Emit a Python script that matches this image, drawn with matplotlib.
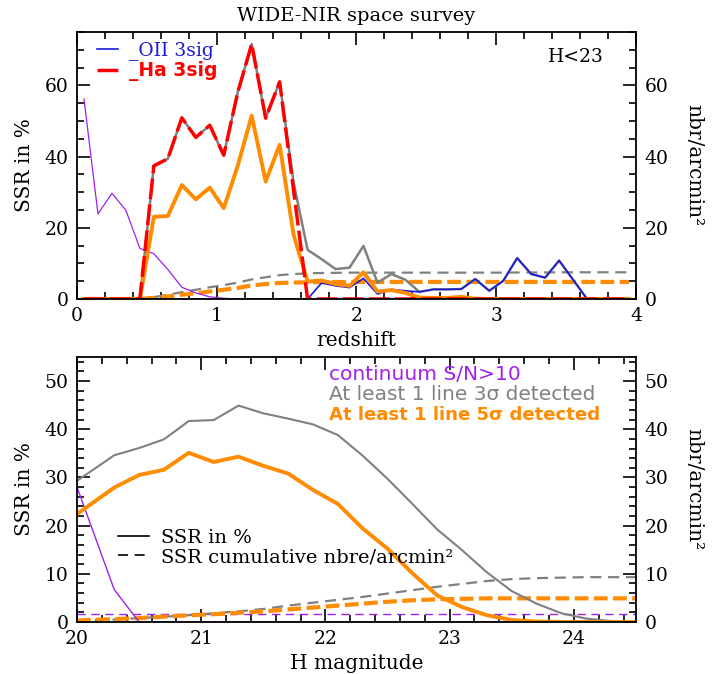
import numpy as np
import matplotlib
matplotlib.use("Agg")
import matplotlib.pyplot as plt
from matplotlib.lines import Line2D
from matplotlib.ticker import MultipleLocator

plt.rcParams["font.family"] = "DejaVu Serif"
plt.rcParams["font.size"] = 13

# ---- top panel : SSR vs redshift (H<23) ----
z = [0.05, 0.15, 0.25, 0.35, 0.45, 0.55, 0.65, 0.75, 0.85, 0.95,
     1.05, 1.15, 1.25, 1.35, 1.45, 1.55, 1.65, 1.75, 1.85, 1.95,
     2.05, 2.15, 2.25, 2.35, 2.45, 2.55, 2.65, 2.75, 2.85, 2.95,
     3.05, 3.15, 3.25, 3.35, 3.45, 3.55, 3.65, 3.75, 3.85, 3.95]

z_cont = [56.2, 23.9, 29.7, 24.9, 14.2, 12.7, 8.3, 3.3, 1.7, 0.6,
          0.2, 0, 0, 0, 0, 0, 0, 0, 0, 0,
          0, 0, 0, 0, 0, 0, 0, 0, 0, 0,
          0, 0, 0, 0, 0, 0, 0, 0, 0, 0]
z_3sig = [0, 0, 0, 0, 0, 37.4, 39.4, 50.9, 45.4, 48.8,
          40.4, 58.0, 71.6, 50.8, 61.0, 32.7, 13.8, 11.2, 8.4, 8.8,
          14.9, 4.6, 7.0, 5.4, 2.0, 2.7, 2.7, 2.8, 5.6, 2.3,
          5.1, 11.5, 7.0, 6.0, 10.8, 5.4, 0, 0, 0, 0]
z_5sig = [0, 0, 0, 0, 0, 23.1, 23.3, 32.0, 28.0, 31.3,
          25.5, 37.4, 51.5, 33.0, 43.3, 18.0, 4.9, 5.2, 4.2, 3.7,
          7.5, 2.1, 2.5, 1.7, 0.4, 0.3, 0.3, 0.6, 0.1, 0,
          0, 0, 0, 0, 0, 0, 0, 0, 0, 0]
z_oii = [0, 0, 0, 0, 0, 0, 0, 0, 0, 0,
         0, 0, 0, 0, 0, 0, 0, 4.5, 3.7, 3.2,
         5.8, 1.4, 2.7, 2.3, 2.0, 2.7, 2.7, 2.8, 5.6, 2.3,
         5.1, 11.5, 7.0, 6.0, 10.8, 5.4, 0, 0, 0, 0]
z_ha = [0, 0, 0, 0, 0, 37.4, 39.4, 50.9, 45.4, 48.8,
        40.4, 58.0, 71.6, 50.8, 61.0, 30.5, 0, 0, 0, 0,
        0, 0, 0, 0, 0, 0, 0, 0, 0, 0,
        0, 0, 0, 0, 0, 0, 0, 0, 0, 0]
z_cum3 = [0, 0, 0, 0, 0, 0.5, 1.2, 1.9, 2.6, 3.3,
          3.9, 4.6, 5.5, 6.1, 6.7, 7.0, 7.2, 7.3, 7.35, 7.4,
          7.4, 7.4, 7.4, 7.4, 7.4, 7.4, 7.4, 7.4, 7.4, 7.4,
          7.4, 7.45, 7.45, 7.45, 7.5, 7.5, 7.5, 7.5, 7.5, 7.5]
z_cum5 = [0, 0, 0, 0, 0, 0.3, 0.7, 1.2, 1.6, 2.1,
          2.6, 3.1, 3.8, 4.2, 4.5, 4.6, 4.7, 4.75, 4.75, 4.75,
          4.8, 4.8, 4.8, 4.8, 4.8, 4.8, 4.8, 4.8, 4.8, 4.8,
          4.8, 4.8, 4.8, 4.8, 4.8, 4.8, 4.8, 4.8, 4.8, 4.8]

# ---- bottom panel : SSR vs H magnitude ----
hmag = [20.0, 20.3, 20.5, 20.7, 20.9, 21.1, 21.3, 21.5, 21.7, 21.9,
        22.1, 22.3, 22.5, 22.7, 22.9, 23.1, 23.3, 23.5, 23.7, 23.9,
        24.1, 24.3, 24.5]
h_cont = [28.0, 6.7, 0, 0, 0, 0, 0, 0, 0, 0,
          0, 0, 0, 0, 0, 0, 0, 0, 0, 0, 0, 0, 0]
h_3sig = [29.3, 34.6, 36.1, 37.9, 41.7, 41.9, 44.9, 43.3, 42.2, 41.0,
          38.8, 34.5, 29.7, 24.5, 19.2, 14.9, 10.3, 6.4, 3.8, 1.8,
          0.7, 0.2, 0.0]
h_5sig = [22.4, 27.9, 30.5, 31.6, 35.1, 33.2, 34.3, 32.4, 30.8, 27.4,
          24.5, 19.4, 15.2, 10.1, 5.5, 3.1, 1.4, 0.4, 0.1, 0,
          0, 0, 0]
h_cumc = [1.7] * 23
h_cum3 = [0.3, 0.5, 0.8, 1.1, 1.4, 1.8, 2.2, 2.7, 3.4, 4.0,
          4.6, 5.2, 5.9, 6.6, 7.3, 7.9, 8.5, 8.9, 9.1, 9.2,
          9.3, 9.3, 9.3]
h_cum5 = [0.3, 0.6, 0.8, 1.1, 1.4, 1.6, 1.9, 2.2, 2.6, 3.0,
          3.4, 3.8, 4.2, 4.5, 4.7, 4.8, 4.9, 4.9, 4.9, 4.9,
          4.9, 4.9, 4.9]

PURPLE = "#a020f0"
BLUE = "#1a1ad8"
RED = "#ff0000"
ORANGE = "#ff8c00"
GRAY = "#808080"


def style_axis(ax, xmaj, xmin, ymaj, ymin):
    ax.xaxis.set_major_locator(MultipleLocator(xmaj))
    ax.xaxis.set_minor_locator(MultipleLocator(xmin))
    ax.yaxis.set_major_locator(MultipleLocator(ymaj))
    ax.yaxis.set_minor_locator(MultipleLocator(ymin))
    ax.tick_params(which="both", direction="in", top=True, right=True,
                   labelright=True, width=1.2)
    ax.tick_params(which="major", length=9.5, pad=6, labelsize=13.5)
    ax.tick_params(which="minor", length=5)
    for s in ax.spines.values():
        s.set_linewidth(1.3)


fig = plt.figure(figsize=(7.17, 6.74), dpi=100)

# top panel
ax1 = fig.add_axes([0.1074, 0.5564, 0.7796, 0.3961])
ax1.plot(z, z_cum3, color=GRAY, lw=1.6, dashes=(5, 3))
ax1.plot(z, z_cum5, color=ORANGE, lw=3, dashes=(3.3, 1.3))
ax1.plot(z, z_3sig, color=GRAY, lw=1.8)
ax1.plot(z, z_oii, color=BLUE, lw=1.2)
ax1.plot(z, z_cont, color=PURPLE, lw=0.9)
ax1.plot(z, z_5sig, color=ORANGE, lw=2.8)
ax1.plot(z, z_ha, color=RED, lw=2.5, dashes=(6, 1.5))
ax1.set_xlim(0, 4)
ax1.set_ylim(0, 75)
style_axis(ax1, 1, 0.2, 20, 5)
ax1.set_xlabel("redshift", fontsize=14.5, labelpad=4)
ax1.set_ylabel("SSR in %", fontsize=14.5, labelpad=8)
ax1.set_title("WIDE-NIR space survey", fontsize=14, pad=8)
ax1.text(0.943, 0.906, "H<23", transform=ax1.transAxes, ha="right",
         va="center", fontsize=13.5)

top_handles = [Line2D([], [], color=BLUE, lw=1.2),
               Line2D([], [], color=RED, lw=2.5, dashes=(6, 1.5))]
leg1 = ax1.legend(top_handles, ["_OII 3sig", "_Ha 3sig"], loc="upper left",
                  bbox_to_anchor=(0.036, 0.965), frameon=False,
                  handlelength=1.1, handletextpad=0.6, labelspacing=0.05,
                  borderpad=0, borderaxespad=0, fontsize=13.5)
t_oii, t_ha = leg1.get_texts()
t_oii.set_color(BLUE)
t_ha.set_color(RED)
t_ha.set_fontweight("bold")
t_ha.set_family("DejaVu Sans")

# bottom panel
ax2 = fig.add_axes([0.1074, 0.0772, 0.7796, 0.3932])
ax2.plot(hmag, h_cumc, color=PURPLE, lw=1.0, dashes=(6, 4))
ax2.plot(hmag, h_cum3, color=GRAY, lw=1.6, dashes=(5, 3))
ax2.plot(hmag, h_cum5, color=ORANGE, lw=3, dashes=(3.3, 1.3))
ax2.plot(hmag, h_3sig, color=GRAY, lw=1.5)
ax2.plot(hmag, h_cont, color=PURPLE, lw=1.0)
ax2.plot(hmag, h_5sig, color=ORANGE, lw=2.8)
ax2.set_xlim(20, 24.5)
ax2.set_ylim(0, 55)
style_axis(ax2, 1, 0.2, 10, 2)
ax2.set_xlabel("H magnitude", fontsize=14.5, labelpad=4)
ax2.set_ylabel("SSR in %", fontsize=14.5, labelpad=8)

ax2.text(0.451, 0.932, "continuum S/N>10", transform=ax2.transAxes,
         color=PURPLE, fontsize=14.5, family="DejaVu Sans", va="center")
ax2.text(0.451, 0.857, "At least 1 line 3σ detected", transform=ax2.transAxes,
         color=GRAY, fontsize=14.5, family="DejaVu Sans", va="center")
ax2.text(0.451, 0.781, "At least 1 line 5σ detected", transform=ax2.transAxes,
         color=ORANGE, fontsize=13.1, family="DejaVu Sans", fontweight="bold",
         va="center")

style_handles = [Line2D([], [], color="black", lw=1.2),
                 Line2D([], [], color="black", lw=1.2, dashes=(6, 4))]
ax2.legend(style_handles, ["SSR in %", "SSR cumulative nbre/arcmin²"],
           loc="upper left", bbox_to_anchor=(0.073, 0.35), frameon=False,
           handlelength=1.6, handletextpad=0.6, labelspacing=0.05,
           borderpad=0, borderaxespad=0, fontsize=14)

# right-hand axis labels
fig.text(0.968, 0.5564 + 0.3961 / 2, "nbr/arcmin²", rotation=270,
         ha="center", va="center", fontsize=14.5)
fig.text(0.968, 0.0772 + 0.3932 / 2, "nbr/arcmin²", rotation=270,
         ha="center", va="center", fontsize=14.5)

fig.savefig("out.png", dpi=100)
